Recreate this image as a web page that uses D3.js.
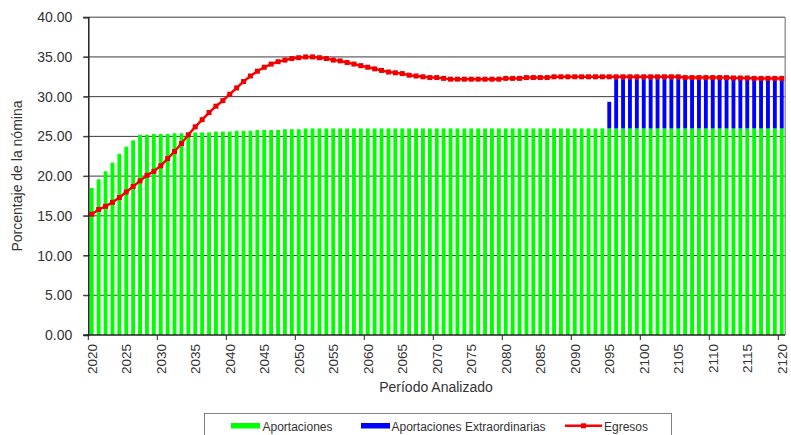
<!DOCTYPE html>
<html>
<head>
<meta charset="utf-8">
<script src="https://cdn.jsdelivr.net/npm/d3@7"></script>
<style>
  html, body { margin: 0; padding: 0; background: #fff; }
  svg { display: block; font-family: "Liberation Sans", Arial, sans-serif; }
</style>
</head>
<body>
<svg id="chart" width="791" height="435"></svg>
<script>
// ---- Data ----
const years = [
  2020,2021,2022,2023,2024,2025,2026,2027,2028,2029,
  2030,2031,2032,2033,2034,2035,2036,2037,2038,2039,
  2040,2041,2042,2043,2044,2045,2046,2047,2048,2049,
  2050,2051,2052,2053,2054,2055,2056,2057,2058,2059,
  2060,2061,2062,2063,2064,2065,2066,2067,2068,2069,
  2070,2071,2072,2073,2074,2075,2076,2077,2078,2079,
  2080,2081,2082,2083,2084,2085,2086,2087,2088,2089,
  2090,2091,2092,2093,2094,2095,2096,2097,2098,2099,
  2100,2101,2102,2103,2104,2105,2106,2107,2108,2109,
  2110,2111,2112,2113,2114,2115,2116,2117,2118,2119,
  2120
];
const aportaciones = [
  18.5,19.6,20.6,21.7,22.8,23.7,24.5,25.2,25.2,25.3,
  25.3,25.3,25.4,25.4,25.4,25.5,25.5,25.5,25.6,25.6,
  25.6,25.7,25.7,25.7,25.8,25.8,25.8,25.8,25.9,25.9,
  25.9,26.0,26.0,26.0,26.0,26.0,26.0,26.0,26.0,26.0,
  26.0,26.0,26.0,26.0,26.0,26.0,26.0,26.0,26.0,26.0,
  26.0,26.0,26.0,26.0,26.0,26.0,26.0,26.0,26.0,26.0,
  26.0,26.0,26.0,26.0,26.0,26.0,26.0,26.0,26.0,26.0,
  26.0,26.0,26.0,26.0,26.0,26.0,26.0,26.0,26.0,26.0,
  26.0,26.0,26.0,26.0,26.0,26.0,26.0,26.0,26.0,26.0,
  26.0,26.0,26.0,26.0,26.0,26.0,26.0,26.0,26.0,26.0,
  26.0
];
const extraordinarias = [
  0,0,0,0,0,0,0,0,0,0,
  0,0,0,0,0,0,0,0,0,0,
  0,0,0,0,0,0,0,0,0,0,
  0,0,0,0,0,0,0,0,0,0,
  0,0,0,0,0,0,0,0,0,0,
  0,0,0,0,0,0,0,0,0,0,
  0,0,0,0,0,0,0,0,0,0,
  0,0,0,0,0,3.35,6.2,6.2,6.2,6.2,
  6.2,6.2,6.2,6.2,6.2,6.2,6.2,6.2,6.2,6.2,
  6.2,6.2,6.2,6.2,6.2,6.2,6.15,6.15,6.15,6.15,
  6.15
];
const egresos = [
  15.2,15.8,16.2,16.7,17.3,18.0,18.7,19.4,20.1,20.6,
  21.3,22.2,23.1,24.1,25.2,26.2,27.1,28.0,28.8,29.5,
  30.3,31.1,31.9,32.6,33.2,33.7,34.1,34.4,34.6,34.8,
  34.9,35.0,35.0,34.9,34.8,34.6,34.5,34.3,34.1,33.9,
  33.7,33.5,33.3,33.1,33.0,32.9,32.7,32.6,32.5,32.4,
  32.4,32.3,32.2,32.2,32.2,32.2,32.2,32.2,32.2,32.2,
  32.3,32.3,32.3,32.4,32.4,32.4,32.4,32.5,32.5,32.5,
  32.5,32.5,32.5,32.5,32.5,32.5,32.5,32.5,32.5,32.5,
  32.5,32.5,32.5,32.5,32.5,32.5,32.4,32.4,32.4,32.4,
  32.4,32.4,32.4,32.35,32.35,32.35,32.3,32.3,32.3,32.3,
  32.3
];
const yTicks = [0,5,10,15,20,25,30,35,40];
const seriesNames = ["Aportaciones", "Aportaciones Extraordinarias", "Egresos"];
const seriesColors = ["#00ff00", "#0000ff", "#ff0000"];

// ---- Layout ----
const svg = d3.select("#chart");
const plot = { left: 88.3, right: 785.2, top: 17.2, bottom: 335 };
const textColor = "#333";

const x = d3.scaleBand().domain(years).range([plot.left, plot.right]).paddingInner(0.44).paddingOuter(0.22);
const xc = d3.scaleBand().domain(years).range([plot.left, plot.right]);
const y = d3.scaleLinear().domain([0, 40]).range([plot.bottom, plot.top]);

// gridlines
svg.append("g").selectAll("line").data(yTicks.filter(d => d > 0)).join("line")
  .attr("x1", plot.left - 5).attr("x2", plot.right)
  .attr("y1", d => y(d)).attr("y2", d => y(d))
  .attr("stroke", "#3a3a3a").attr("stroke-width", 1);

// right border
svg.append("line").attr("x1", plot.right).attr("x2", plot.right)
  .attr("y1", plot.top).attr("y2", plot.bottom)
  .attr("stroke", "#9a9a9a").attr("stroke-width", 1.5);

// stacked bars
const stackData = years.map((yr, i) => ({ year: yr, a: aportaciones[i], e: extraordinarias[i] }));
const stack = d3.stack().keys(["a", "e"])(stackData);
svg.append("g").selectAll("g").data(stack).join("g")
  .attr("fill", (d, i) => seriesColors[i])
  .selectAll("rect").data(d => d).join("rect")
  .attr("x", d => x(d.data.year))
  .attr("width", x.bandwidth())
  .attr("y", d => y(d[1]))
  .attr("height", d => Math.max(0, y(d[0]) - y(d[1])));

// line
const lineGen = d3.line().x((d, i) => xc(years[i]) + xc.bandwidth() / 2).y(d => y(d));
svg.append("path").datum(egresos).attr("d", lineGen)
  .attr("fill", "none").attr("stroke", "#ff0000").attr("stroke-width", 2.5);
svg.append("g").selectAll("rect").data(egresos).join("rect")
  .attr("x", (d, i) => xc(years[i]) + xc.bandwidth() / 2 - 2.5)
  .attr("y", d => y(d) - 2.5)
  .attr("width", 5).attr("height", 5)
  .attr("fill", "#ee0000");

// y axis
const yAxis = d3.axisLeft(y).tickValues(yTicks).tickSize(5).tickFormat(d3.format(".2f"));
const gy = svg.append("g").attr("transform", `translate(${plot.left},0)`).call(yAxis);
gy.select(".domain").attr("stroke", "#222").attr("stroke-width", 1.5);
gy.selectAll(".tick line").attr("stroke", "#3a3a3a");
gy.selectAll(".tick text").attr("fill", textColor).attr("font-size", 14)
  .attr("font-family", "Liberation Sans, Arial, sans-serif").attr("x", -16);

// x axis
const xAxisLine = svg.append("g").attr("transform", `translate(0,${plot.bottom})`);
xAxisLine.append("line").attr("x1", plot.left - 5).attr("x2", plot.right)
  .attr("stroke", "#222").attr("stroke-width", 1.5);
const tickYears = years.filter(yr => (yr - 2020) % 10 === 0);
xAxisLine.selectAll("line.tk").data(tickYears).join("line").attr("class", "tk")
  .attr("x1", d => xc(d)).attr("x2", d => xc(d))
  .attr("y1", 0).attr("y2", 5).attr("stroke", "#222");
const labelYears = years.filter(yr => (yr - 2020) % 5 === 0);
xAxisLine.selectAll("text").data(labelYears).join("text")
  .attr("transform", d => `translate(${xc(d) + xc.bandwidth() / 2 + 5},9) rotate(-90)`)
  .attr("text-anchor", "end")
  .attr("font-size", 13.5).attr("fill", textColor)
  .text(d => d);

// titles
svg.append("text").attr("x", 436).attr("y", 392).attr("text-anchor", "middle")
  .attr("font-size", 14).attr("fill", textColor).text("Período Analizado");
svg.append("text").attr("transform", "translate(22,176) rotate(-90)").attr("text-anchor", "middle")
  .attr("font-size", 14).attr("fill", textColor).text("Porcentaje de la nómina");

// legend
const lg = svg.append("g");
lg.append("rect").attr("x", 204.5).attr("y", 413.5).attr("width", 467).attr("height", 30)
  .attr("fill", "#fff").attr("stroke", "#808080").attr("stroke-width", 1);
const legendItems = [
  { name: seriesNames[0], color: seriesColors[0], sx: 231, tx: 262.5, type: "bar" },
  { name: seriesNames[1], color: seriesColors[1], sx: 361, tx: 391.5, type: "bar" },
  { name: seriesNames[2], color: seriesColors[2], sx: 565, tx: 604, type: "line" }
];
legendItems.forEach(it => {
  if (it.type === "bar") {
    lg.append("rect").attr("x", it.sx).attr("y", 423).attr("width", 29).attr("height", 5.5).attr("fill", it.color);
  } else {
    lg.append("line").attr("x1", it.sx).attr("x2", it.sx + 37).attr("y1", 425.8).attr("y2", 425.8)
      .attr("stroke", it.color).attr("stroke-width", 2.5);
    lg.append("rect").attr("x", it.sx + 16).attr("y", 423.3).attr("width", 5).attr("height", 5).attr("fill", "#ee0000");
  }
  lg.append("text").attr("x", it.tx).attr("y", 430.5).attr("font-size", 12).attr("fill", textColor).text(it.name);
});
</script>
</body>
</html>
